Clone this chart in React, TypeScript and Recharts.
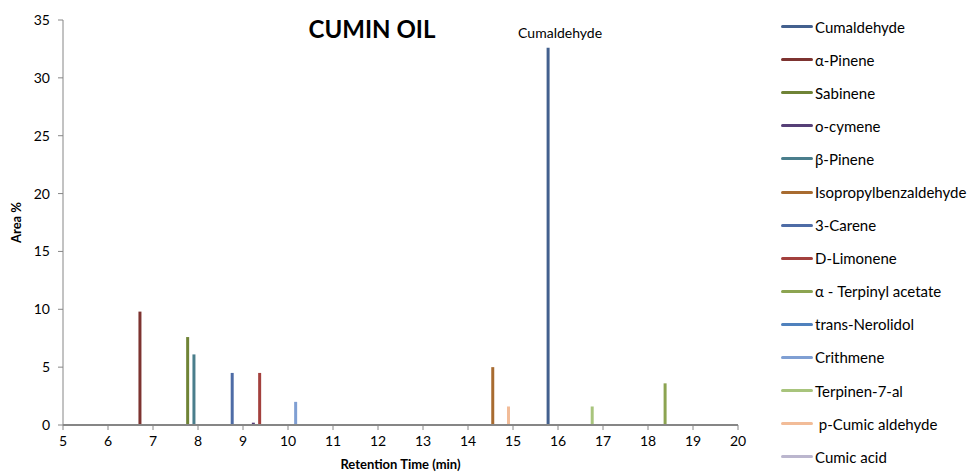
import React from 'react';
import { LineChart, Line, XAxis, YAxis } from 'recharts';

const compounds = [
  'Cumaldehyde',
  'α-Pinene',
  'Sabinene',
  'o-cymene',
  'β-Pinene',
  'Isopropylbenzaldehyde',
  '3-Carene',
  'D-Limonene',
  'α - Terpinyl acetate',
  'trans-Nerolidol',
  'Crithmene',
  'Terpinen-7-al',
  ' p-Cumic aldehyde',
  'Cumic acid',
];

// retention time (min) of each peak, null = not drawn
const retentionTimes: (number | null)[] = [15.78, 6.71, 7.77, 9.23, 7.91, 14.55, 8.76, 9.37, 18.38, null, 10.17, 16.76, 14.9, null];
// area %
const areas: (number | null)[] = [32.6, 9.8, 7.6, 0.2, 6.1, 5.0, 4.5, 4.5, 3.6, null, 2.0, 1.6, 1.6, null];

const COLORS = [
  '#43608e', '#7d3330', '#6f8336', '#563f77', '#4a7e8c', '#a86b30', '#4e6ca6',
  '#a3403d', '#8ca451', '#4f81bd', '#7f9fd3', '#a8c47c', '#f2bc98', '#bbb6ce',
];

const xTicks = [5, 6, 7, 8, 9, 10, 11, 12, 13, 14, 15, 16, 17, 18, 19, 20];
const yTicks = [0, 5, 10, 15, 20, 25, 30, 35];

const FONT = 'Lato, "Open Sans", sans-serif';

const series = compounds.map((name, i) => {
  const t = retentionTimes[i];
  const a = areas[i];
  const data = t === null || a === null ? [] : [{ t, v: 0 }, { t, v: a }];
  return { name, color: COLORS[i], data };
});

const peakLabel = (props: any) => {
  const { x, y, index } = props;
  if (index !== 1) return null;
  return (
    <text x={x + 12} y={y - 10} textAnchor="middle" fontSize={14} fontFamily={FONT} fill="#000">
      Cumaldehyde
    </text>
  );
};

export default function App() {
  return (
    <div style={{ position: 'absolute', left: 0, top: 0, width: 969, height: 476, background: '#fff' }}>
      <LineChart width={969} height={476} margin={{ top: 20, right: 231, bottom: 21, left: 33 }}>
        <XAxis
          type="number"
          dataKey="t"
          domain={[5, 20]}
          ticks={xTicks}
          interval={0}
          allowDataOverflow
          height={30}
          tickSize={5}
          tickMargin={6}
          axisLine={{ stroke: '#868686', strokeWidth: 2 }}
          tickLine={{ stroke: '#868686' }}
          tick={{ fill: '#000', fontSize: 14, fontFamily: FONT }}
          label={{ value: 'Retention Time (min)', position: 'insideBottom', offset: -14, fontSize: 13, fontWeight: 'bold', fontFamily: FONT, fill: '#000' }}
        />
        <YAxis
          type="number"
          domain={[0, 35]}
          ticks={yTicks}
          interval={0}
          width={30}
          tickSize={5}
          tickMargin={8}
          axisLine={{ stroke: '#868686' }}
          tickLine={{ stroke: '#868686' }}
          tick={{ fill: '#000', fontSize: 14, fontFamily: FONT }}
          label={{ value: 'Area %', angle: -90, position: 'insideLeft', offset: -17, fontSize: 13, fontWeight: 'bold', fontFamily: FONT, fill: '#000', style: { textAnchor: 'middle' } }}
        />
        {series.map((s, i) => (
          <Line
            key={s.name}
            data={s.data}
            dataKey="v"
            name={s.name}
            type="linear"
            stroke={s.color}
            strokeWidth={3}
            dot={false}
            activeDot={false}
            isAnimationActive={false}
            label={i === 0 ? peakLabel : false}
          />
        ))}
      </LineChart>
      <div
        style={{
          position: 'absolute', left: 372, top: 14, transform: 'translateX(-50%)',
          fontFamily: FONT, fontWeight: 'bold', fontSize: 24, color: '#000', whiteSpace: 'nowrap',
        }}
      >
        CUMIN OIL
      </div>
      <div style={{ position: 'absolute', left: 781, top: 10, fontFamily: FONT, fontSize: 15 }}>
        {series.map(s => (
          <div key={s.name} style={{ display: 'flex', alignItems: 'center', height: 33.1 }}>
            <div style={{ width: 32, height: 3, borderRadius: 2, background: s.color, marginRight: 2 }} />
            <span style={{ color: '#000', whiteSpace: 'pre' }}>{s.name}</span>
          </div>
        ))}
      </div>
    </div>
  );
}
